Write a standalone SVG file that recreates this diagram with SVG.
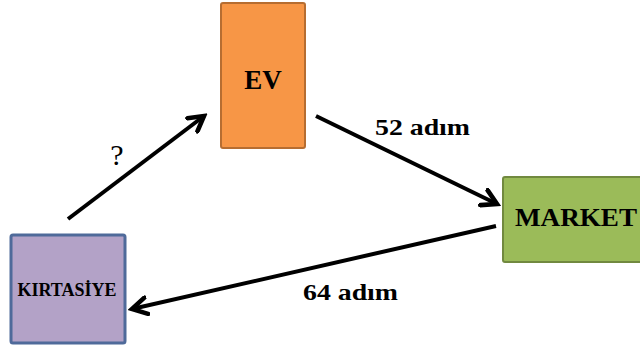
<svg xmlns="http://www.w3.org/2000/svg" width="640" height="351" viewBox="0 0 640 351">
<style>
.t{font-family:'Times New Roman','Liberation Serif',Tinos,serif;font-weight:bold;fill:#000}
.q{font-family:'Times New Roman','Liberation Serif',Tinos,serif;fill:#000}
.c{stroke:#000;stroke-width:4;fill:none;marker-end:url(#ah)}
</style>
<defs>
<marker id="ah" viewBox="0 0 10 10" refX="8" refY="5" markerWidth="5.2" markerHeight="5.2" markerUnits="strokeWidth" orient="auto">
<polyline points="1,1 8,5 1,9" fill="none" stroke="#000" stroke-width="2.2" stroke-linecap="round" stroke-linejoin="miter"/>
</marker>
</defs>
<rect width="640" height="351" fill="#fff"/>
<g id="ev">
<rect x="221" y="3" width="84" height="145" rx="2" fill="#F79646" stroke="#B66D31" stroke-width="2"/>
<text class="t" x="263" y="89" font-size="27" text-anchor="middle">EV</text>
</g>
<g id="market">
<rect x="503" y="177" width="150" height="85" rx="2" fill="#9BBB59" stroke="#71893F" stroke-width="2"/>
<text class="t" x="515" y="226" font-size="25" textLength="122" lengthAdjust="spacingAndGlyphs">MARKET</text>
</g>
<g id="kirtasiye">
<rect x="11" y="235" width="114" height="108" rx="2" fill="#B3A2C7" stroke="#4F6A9A" stroke-width="3"/>
<text class="t" x="67" y="296" font-size="18" text-anchor="middle" textLength="99" lengthAdjust="spacingAndGlyphs">KIRTASİYE</text>
</g>
<g id="connectors">
<line class="c" x1="68" y1="219" x2="204" y2="116"/>
<line class="c" x1="316" y1="116" x2="497" y2="204"/>
<line class="c" x1="496" y1="226" x2="132" y2="309"/>
<text class="t" x="375" y="135" font-size="24" textLength="95" lengthAdjust="spacingAndGlyphs">52 adım</text>
<text class="t" x="303" y="300" font-size="24" textLength="95" lengthAdjust="spacingAndGlyphs">64 adım</text>
<text class="q" x="117" y="165" font-size="30" text-anchor="middle">?</text>
</g>
</svg>
